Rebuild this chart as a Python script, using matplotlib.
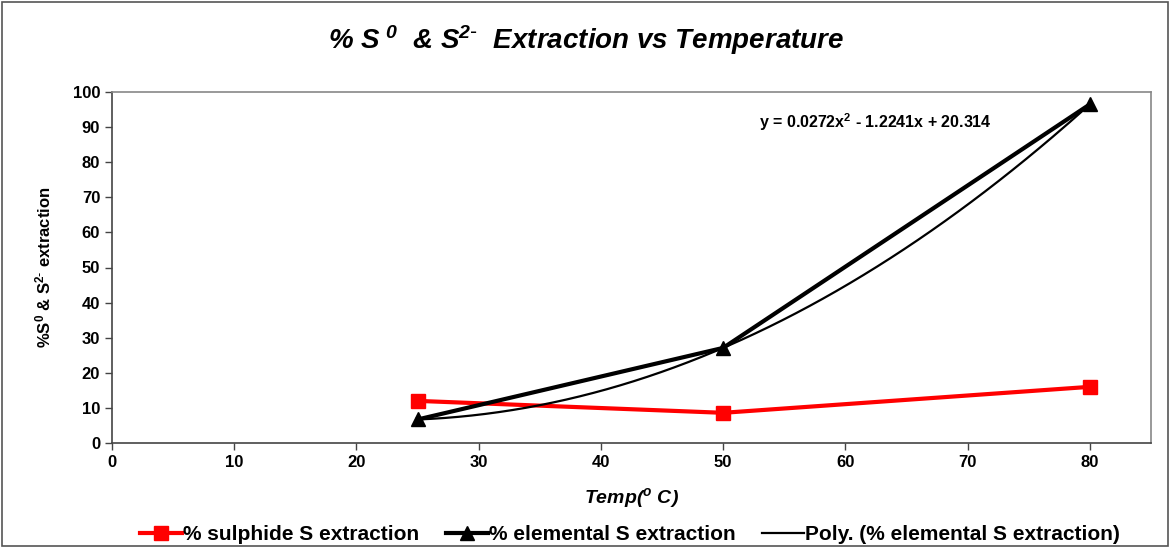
import numpy as np
import matplotlib.pyplot as plt
from matplotlib.patches import Rectangle

plt.rcParams['font.family'] = ['Liberation Sans', 'DejaVu Sans']
plt.rcParams['mathtext.default'] = 'regular'

temps = [25, 50, 80]
sulphide = [12.0, 8.6, 16.0]
elemental = [6.7, 27.1, 96.5]
eq_text = r'y = 0.0272x$^{2}$ - 1.2241x + 20.314'

fig = plt.figure(figsize=(11.73, 5.49), dpi=100)
ax = fig.add_axes([112/1173, 1 - 443/549, (1151-112)/1173, (443-92)/549])

# outer chart border
fig.patches.append(Rectangle((0.002, 0.006), 0.994, 0.99, transform=fig.transFigure,
                             fill=False, edgecolor='#555555', linewidth=1.2))

ax.plot(temps, sulphide, color='red', linewidth=3, marker='s', markersize=10,
        label='% sulphide S extraction')
ax.plot(temps, elemental, color='black', linewidth=3, marker='^', markersize=10,
        label='% elemental S extraction')

# 2nd order trendline like excel
coef = np.polyfit(temps, elemental, 2)
xs = np.linspace(temps[0], temps[-1], 200)
ax.plot(xs, np.polyval(coef, xs), color='black', linewidth=1.6,
        label='Poly. (% elemental S extraction)')

ax.text(52.9, 91.4, eq_text, fontsize=11.5, fontweight='bold', ha='left', va='center')

ax.set_xlim(0, 85)
ax.set_ylim(0, 100)
ax.set_xticks(range(0, 81, 10))
ax.set_yticks(range(0, 101, 10))
ax.tick_params(direction='out', length=5, width=1, colors='#444444', labelcolor='black',
               labelsize=12)
for lab in ax.get_xticklabels() + ax.get_yticklabels():
    lab.set_fontweight('bold')
for s in ax.spines.values():
    s.set_color('#888888')
    s.set_linewidth(1.2)
ax.spines['left'].set_color('#444444')
ax.spines['bottom'].set_color('#444444')

ax.set_xlabel(r'Temp($^{o}$ C)', fontsize=14, fontweight='bold', fontstyle='italic', labelpad=12)
ax.set_ylabel(r'%S$^{0}$ & S$^{2\text{-}}$ extraction', fontsize=12, fontweight='bold', labelpad=14)
fig.text(0.5, 1 - 40/549, r'% S$^{\ 0}$  & S$^{2\text{-}}$  Extraction vs Temperature', ha='center',
         va='center', fontsize=20, fontweight='bold', fontstyle='italic')

ax.legend(loc='center', bbox_to_anchor=(0.537, 1 - 535/549), bbox_transform=fig.transFigure,
          ncol=3, frameon=False, prop={'weight': 'bold', 'size': 15}, handlelength=2.0,
          handletextpad=0.05, columnspacing=1.3, borderpad=0.1)

fig.savefig('out.png', dpi=100)
